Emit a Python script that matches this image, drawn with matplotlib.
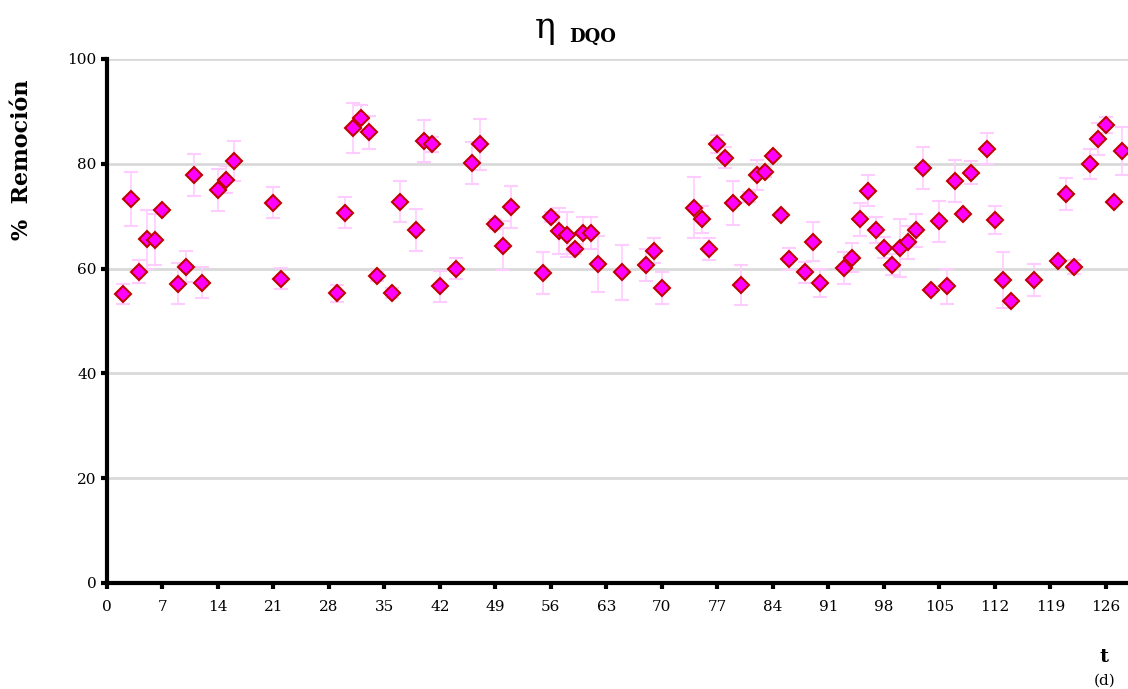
import matplotlib
matplotlib.use('Agg')
import matplotlib.pyplot as plt
import numpy as np

plt.rcParams['font.family'] = ['DejaVu Serif']

dias = [2, 3, 4, 5, 6, 7, 9, 10, 11, 12, 14, 15, 16, 21, 22, 29, 30, 31, 32, 33,
        34, 36, 37, 39, 40, 41, 42, 44, 46, 47, 49, 50, 51, 55, 56, 57, 58, 59, 60, 61,
        62, 65, 68, 69, 70, 74, 75, 76, 77, 78, 79, 80, 81, 82, 83, 84, 85, 86, 88, 89,
        90, 93, 94, 95, 96, 97, 98, 99, 100, 101, 102, 103, 104, 105, 106, 107, 108, 109, 111, 112,
        113, 114, 117, 120, 121, 122, 124, 125, 126, 127, 128]
remocion = [55.2, 73.3, 59.4, 65.6, 65.5, 71.2, 57.1, 60.4, 77.8, 57.3, 75.0, 77.0, 80.5, 72.6, 58.1, 55.3, 70.7, 86.8, 88.8, 86.0,
            58.6, 55.3, 72.8, 67.3, 84.4, 83.7, 56.6, 60.0, 80.2, 83.7, 68.5, 64.4, 71.8, 59.2, 69.8, 67.1, 66.5, 63.7, 66.8, 66.8,
            60.9, 59.3, 60.7, 63.4, 56.3, 71.6, 69.4, 63.8, 83.8, 81.2, 72.6, 56.9, 73.7, 77.9, 78.4, 81.5, 70.3, 61.8, 59.3, 65.1,
            57.2, 60.1, 62.1, 69.4, 74.9, 67.3, 64.0, 60.7, 63.9, 65.0, 67.3, 79.2, 55.9, 69.0, 56.6, 76.7, 70.4, 78.3, 82.9, 69.3,
            57.8, 53.9, 57.8, 61.5, 74.2, 60.3, 80.0, 84.7, 87.4, 72.8, 82.4]
desv = [1.9, 5.2, 2.2, 5.6, 4.9, 0, 3.9, 3.0, 4.0, 3.0, 4.0, 2.5, 3.8, 3.0, 2.0, 1.6, 3.0, 4.8, 2.5, 3.2,
        1.0, 1.0, 4.0, 4.0, 4.0, 1.5, 2.9, 2.0, 4.0, 4.9, 1.0, 4.6, 4.0, 4.0, 1.0, 4.4, 4.3, 1.0, 3.0, 3.0,
        5.3, 5.2, 3.0, 2.4, 3.1, 5.8, 2.6, 2.1, 1.7, 2.0, 4.2, 3.8, 1.0, 2.9, 1.0, 0, 0, 2.1, 2.0, 3.7,
        2.7, 3.0, 2.8, 3.1, 2.9, 2.5, 2.0, 2.0, 5.5, 3.1, 3.1, 4.0, 0, 3.9, 3.3, 4.0, 0, 2.2, 3.0, 2.7,
        5.4, 0, 3.0, 0, 3.0, 1.4, 2.9, 3.0, 1.5, 0, 4.6]

fig = plt.figure(figsize=(11.28, 6.89), dpi=100)
ax = fig.add_axes([107/1128, 106/689, 1021/1128, 524/689])

ax.errorbar(dias, remocion, yerr=desv, fmt='D', color='#FF00FF', ms=8.5,
            mfc='#FF00FF', mec='#C00000', mew=1.5,
            ecolor='#FFCCFF', elinewidth=1.2, capsize=5, capthick=1.2, zorder=3)

ax.set_xlim(0, 128.8)
ax.set_ylim(0, 100)
ax.set_xticks(np.arange(0, 127, 7))
ax.set_yticks(np.arange(0, 101, 20))
ax.yaxis.grid(True, color='#D9D9D9', linewidth=2)
ax.set_axisbelow(True)

for s in ['top', 'right']:
    ax.spines[s].set_visible(False)
for s in ['left', 'bottom']:
    ax.spines[s].set_linewidth(3)
ax.tick_params(axis='both', labelsize=11, width=3, length=4, direction='out')
ax.tick_params(axis='x', pad=8)

fig.text(22/1128, 1 - 160/689, '%  Remoción', fontsize=16, fontweight='bold',
         rotation=90, ha='center', va='center')

fig.text(556/1128, 1 - 38/689, 'η', fontsize=25, ha='right', va='baseline')
fig.text(569/1128, 1 - 42/689, 'DQO', fontsize=13, fontweight='bold', ha='left', va='baseline')

fig.text(1104/1128, 1 - 657/689, 't', fontsize=14, fontweight='bold', ha='center', va='center')
fig.text(1105/1128, 1 - 681/689, '(d)', fontsize=11, ha='center', va='center')

fig.savefig('out.png', dpi=100)
